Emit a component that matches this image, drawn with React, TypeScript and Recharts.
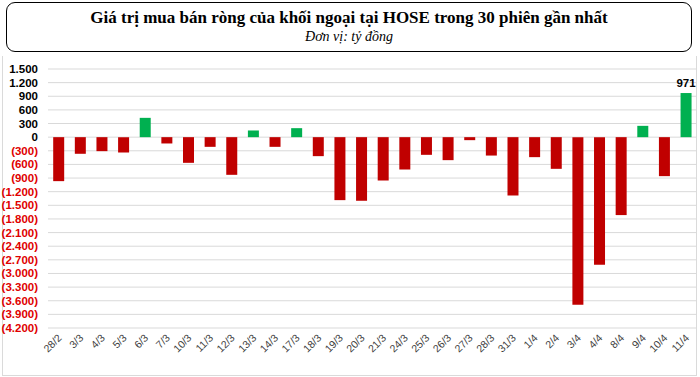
import { Bar, BarChart, CartesianGrid, Cell, LabelList, XAxis, YAxis } from "recharts";

const sessions = [
  "28/2", "3/3", "4/3", "5/3", "6/3", "7/3", "10/3", "11/3", "12/3", "13/3",
  "14/3", "17/3", "18/3", "19/3", "20/3", "21/3", "24/3", "25/3", "26/3", "27/3",
  "28/3", "31/3", "1/4", "2/4", "3/4", "4/4", "8/4", "9/4", "10/4", "11/4",
];

const netValues = [
  -968, -366, -308, -337, 425, -139, -565, -213, -829, 147,
  -213, 198, -418, -1386, -1400, -954, -712, -389, -506, -66,
  -405, -1284, -440, -697, -3688, -2808, -1715, 249, -858, 971,
];

const yTicks = [
  1500, 1200, 900, 600, 300, 0, -300, -600, -900, -1200, -1500, -1800, -2100,
  -2400, -2700, -3000, -3300, -3600, -3900, -4200,
];

const RED = "#C00000";
const GREEN = "#00B050";

const data = sessions.map((day, i) => ({ day, value: netValues[i] }));

function fmt(v: number) {
  const s = Math.abs(v).toString().replace(/\B(?=(\d{3})+(?!\d))/g, ".");
  return v < 0 ? `(${s})` : s;
}

function YTick(props: any) {
  const { x, y, payload } = props;
  const v = payload.value as number;
  return (
    <text
      x={x}
      y={y}
      dy="0.35em"
      textAnchor="end"
      fontFamily="Liberation Sans, Arial, sans-serif"
      fontWeight="bold"
      fontSize={11.5}
      fill={v < 0 ? "#E00000" : "#000"}
    >
      {fmt(v)}
    </text>
  );
}

function XTick(props: any) {
  const { x, y, payload } = props;
  return (
    <g transform={`translate(${x + 1},${y})`}>
      <text
        transform="rotate(-45)"
        textAnchor="end"
        dy="0.35em"
        fontFamily="Liberation Sans, Arial, sans-serif"
        fontSize={10.5}
        fill="#404040"
      >
        {payload.value}
      </text>
    </g>
  );
}

function TopLabel(props: any) {
  const { x, y, width, index, value } = props;
  if (index !== netValues.length - 1) return null;
  return (
    <text
      x={x + width / 2}
      y={y - 6}
      textAnchor="middle"
      fontFamily="Liberation Sans, Arial, sans-serif"
      fontWeight="bold"
      fontSize={11.5}
      fill="#000"
    >
      {value}
    </text>
  );
}

export default function App() {
  return (
    <div style={{ position: "relative", width: 700, height: 377, background: "#fff" }}>
      <style>{"body{margin:0}"}</style>
      <div
        style={{
          position: "absolute",
          left: 2,
          top: 56,
          width: 693,
          height: 319,
          border: "1px solid #DADADA",
          borderTop: "none",
        }}
      />
      <div
        style={{
          position: "absolute",
          left: 6,
          top: 2,
          width: 684,
          height: 48,
          border: "1.5px solid #000",
          borderRadius: 9,
          textAlign: "center",
          fontFamily: "Liberation Serif, Times New Roman, serif",
        }}
      >
        <div style={{ fontWeight: "bold", fontSize: 17, marginTop: 5, lineHeight: "20px" }}>
          Giá trị mua bán ròng của khối ngoại tại HOSE trong 30 phiên gần nhất
        </div>
        <div style={{ fontStyle: "italic", fontSize: 14, lineHeight: "18px" }}>Đơn vị: tỷ đồng</div>
      </div>
      <div style={{ position: "absolute", left: 0, top: 0 }}>
        <BarChart
          width={700}
          height={377}
          data={data}
          margin={{ top: 69, right: 3, bottom: 9, left: 0 }}
          barCategoryGap="24%"
        >
          <CartesianGrid horizontal vertical={false} stroke="#D9D9D9" />
          <XAxis
            dataKey="day"
            interval={0}
            axisLine={false}
            tickLine={false}
            tickSize={0}
            tickMargin={8}
            height={40}
            tick={<XTick />}
          />
          <YAxis
            type="number"
            domain={[-4200, 1500]}
            ticks={yTicks}
            interval={0}
            width={48}
            axisLine={false}
            tickLine={false}
            tickSize={4}
            tickMargin={6}
            tick={<YTick />}
          />
          <Bar dataKey="value" isAnimationActive={false}>
            {data.map((d, i) => (
              <Cell key={i} fill={d.value < 0 ? RED : GREEN} />
            ))}
            <LabelList dataKey="value" content={<TopLabel />} />
          </Bar>
        </BarChart>
      </div>
    </div>
  );
}
